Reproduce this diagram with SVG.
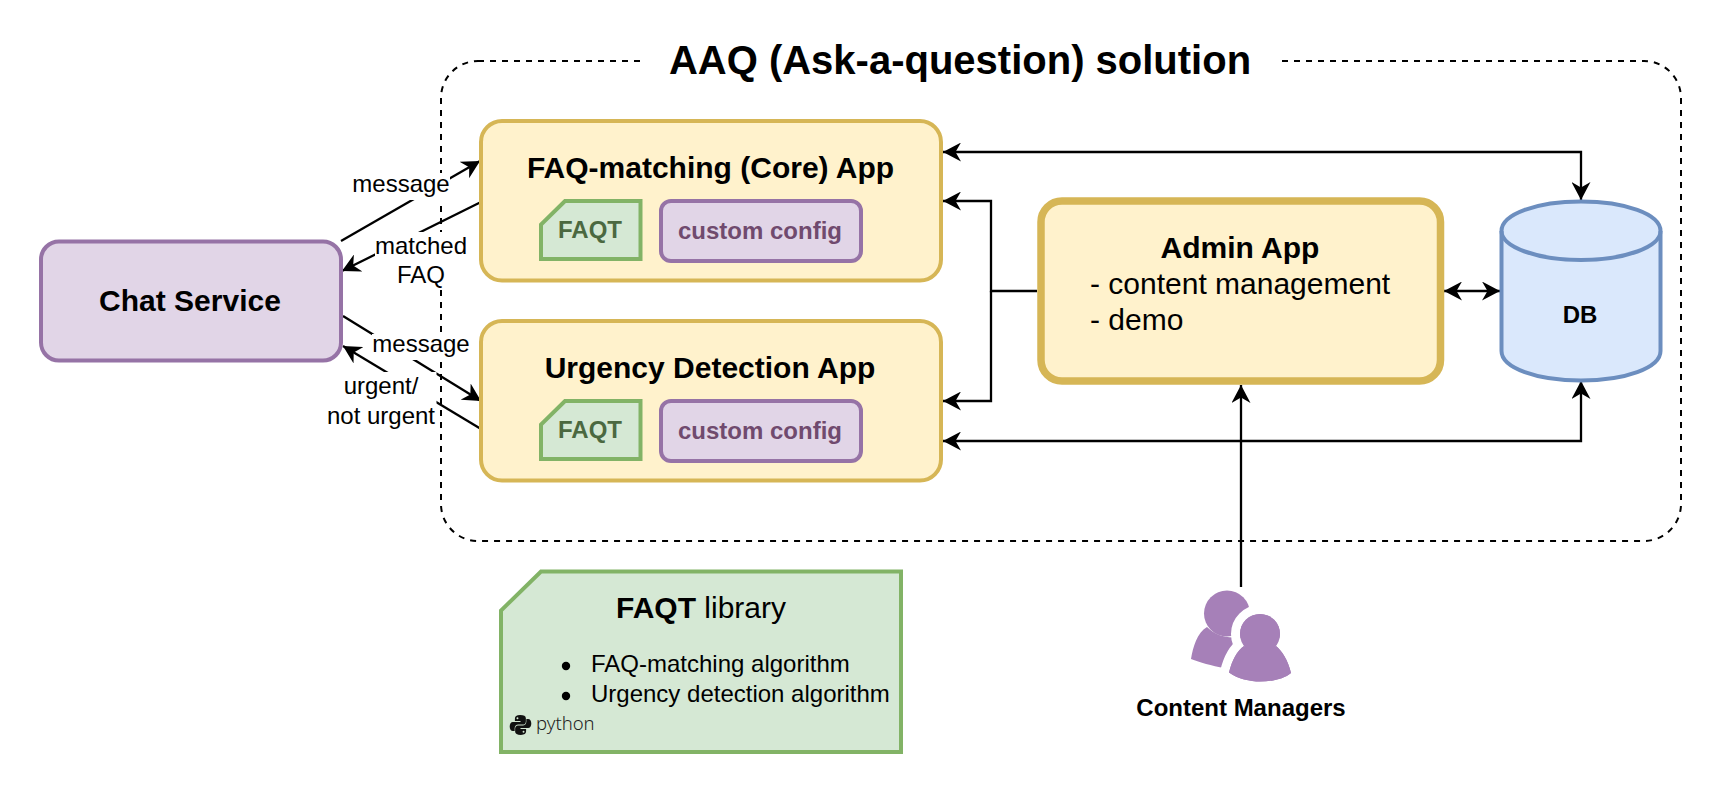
<svg xmlns="http://www.w3.org/2000/svg" width="1722" height="792" viewBox="0 0 1722 792">
<style>
text{font-family:"Liberation Sans",Arial,sans-serif;fill:#000}
.b{font-weight:700}
.m{text-anchor:middle}
.app{fill:#fff2cc;stroke:#d6b656;stroke-width:4}
.cfg{fill:#e1d5e7;stroke:#9673a6;stroke-width:4}
.lib{fill:#d5e8d4;stroke:#82b366;stroke-width:4}
.cn{fill:none;stroke:#000;stroke-width:2.3}
.lb{fill:#fff;stroke:none}
.icon{fill:#a680b8}
</style>
<defs>
<marker id="ah" markerUnits="userSpaceOnUse" viewBox="0 0 18 19" refX="18" refY="9.500" markerWidth="18" markerHeight="19" orient="auto-start-reverse"><path d="M0 0L18 9.500L0 19L5.500 9.500Z" fill="#000"/></marker>
</defs>
<rect width="1722" height="792" fill="#fff"/>
<g id="boundary">
<rect x="441" y="61" width="1240" height="480" rx="37" fill="none" stroke="#000" stroke-width="2" stroke-dasharray="6 6"/>
<rect x="641" y="30" width="641" height="60" fill="#fff"/>
<text class="b m" x="960" y="74" font-size="40">AAQ (Ask-a-question) solution</text>
</g>
<g id="connectors">
<path class="cn" marker-end="url(#ah)" d="M341 241L480 161"/>
<path class="cn" marker-end="url(#ah)" d="M481 202L342 271"/>
<path class="cn" marker-end="url(#ah)" d="M343 316L481 401"/>
<path class="cn" marker-end="url(#ah)" d="M481 429L343 346"/>
<path class="cn" marker-start="url(#ah)" marker-end="url(#ah)" d="M943 152H1581V200"/>
<path class="cn" marker-end="url(#ah)" d="M1037 291H991V201H943"/>
<path class="cn" marker-end="url(#ah)" d="M991 291V401H943"/>
<path class="cn" marker-start="url(#ah)" marker-end="url(#ah)" d="M943 441H1581V381"/>
<path class="cn" marker-start="url(#ah)" marker-end="url(#ah)" d="M1444 291H1500"/>
<path class="cn" marker-end="url(#ah)" d="M1241 587V385"/>
</g>
<g id="chat-service">
<rect class="cfg" x="41" y="241.500" width="300" height="119" rx="18"/>
<text class="b m" x="190" y="311" font-size="30">Chat Service</text>
</g>
<g id="faq-app">
<rect class="app" x="481" y="121" width="460" height="159.500" rx="21"/>
<text class="b m" x="710.500" y="178" font-size="30">FAQ-matching (Core) App</text>
<path class="lib" d="M541 259V224.500L565 201H640.500V259Z"/>
<text class="b m" x="590" y="238" font-size="24" style="fill:#4b6840">FAQT</text>
<rect class="cfg" x="661" y="201" width="200" height="60" rx="10"/>
<text class="b m" x="760" y="239" font-size="24" style="fill:#704a6e">custom config</text>
</g>
<g id="urgency-app">
<rect class="app" x="481" y="321" width="460" height="159.500" rx="21"/>
<text class="b m" x="710" y="378" font-size="30">Urgency Detection App</text>
<path class="lib" d="M541 459V424.500L565 401H640.500V459Z"/>
<text class="b m" x="590" y="438" font-size="24" style="fill:#4b6840">FAQT</text>
<rect class="cfg" x="661" y="401" width="200" height="60" rx="10"/>
<text class="b m" x="760" y="439" font-size="24" style="fill:#704a6e">custom config</text>
</g>
<g id="admin-app">
<rect x="1041" y="201" width="399.500" height="180" rx="21" fill="#fff2cc" stroke="#d6b656" stroke-width="7.500"/>
<text class="b m" x="1240" y="258" font-size="30">Admin App</text>
<text x="1090" y="294" font-size="30">- content management</text>
<text x="1090" y="330" font-size="30">- demo</text>
</g>
<g id="db">
<path d="M1501.500 231C1501.500 214 1537 201.500 1581 201.500S1660.500 214 1660.500 231V351C1660.500 368 1625 380.500 1581 380.500S1501.500 368 1501.500 351Z" fill="#dae8fc" stroke="#6c8ebf" stroke-width="4"/>
<path d="M1501.500 231C1501.500 247 1537 260 1581 260S1660.500 247 1660.500 231" fill="none" stroke="#6c8ebf" stroke-width="4"/>
<text class="b m" x="1580" y="323" font-size="24">DB</text>
</g>
<g id="labels">
<rect class="lb" x="352" y="173" width="98" height="27"/>
<text class="m" x="401" y="192" font-size="24">message</text>
<rect class="lb" x="375" y="232" width="93" height="58"/>
<text class="m" x="421" y="254" font-size="24">matched</text>
<text class="m" x="421" y="283" font-size="24">FAQ</text>
<rect class="lb" x="372" y="334" width="97" height="26"/>
<text class="m" x="421" y="352" font-size="24">message</text>
<rect class="lb" x="327" y="372" width="109.500" height="60"/>
<text class="m" x="381" y="394" font-size="24">urgent/</text>
<text class="m" x="381" y="424" font-size="24">not urgent</text>
</g>
<g id="faqt-library">
<path class="lib" d="M501 752V610.500L541 571.500H901V752Z"/>
<text x="616" y="618" font-size="30"><tspan class="b">FAQT</tspan> library</text>
<circle cx="566" cy="666" r="4.200"/>
<circle cx="566" cy="696" r="4.200"/>
<text x="591" y="672" font-size="24">FAQ-matching algorithm</text>
<text x="591" y="702" font-size="24">Urgency detection algorithm</text>
<g id="python-logo" fill="#111" transform="translate(520.500 725) scale(.8 .9) translate(-520.500 -725.500)">
<path d="M520 714.500c-4.500 0-6.500 1.500-6.500 4v2.500h7v1.200h-9.500c-2.500 0-4 2-4 5s1.500 5 4 5h2.200v-3c0-2.500 2-4.200 4.500-4.200h6c2 0 3.500-1.500 3.500-3.500v-3.500c0-2.300-2.500-3.500-7.200-3.500zm-3.300 2.300a1.200 1.200 0 110 2.400 1.200 1.200 0 010-2.400z"/>
<path d="M521 736.500c4.500 0 6.500-1.500 6.500-4V730h-7v-1.200h9.500c2.500 0 4-2 4-5s-1.500-5-4-5h-2.200v3c0 2.500-2 4.200-4.500 4.200h-6c-2 0-3.500 1.500-3.500 3.500v3.500c0 2.300 2.500 3.500 7.200 3.500zm3.300-2.300a1.200 1.200 0 110-2.400 1.200 1.200 0 010 2.400z"/>
</g>
<text x="536" y="730" font-size="18.500" style="font-family:'Noto Sans',sans-serif;font-weight:300;fill:#222">python</text>
</g>
<g id="content-managers">
<g class="icon">
<circle cx="1227" cy="613.500" r="23"/>
<path d="M1207 627C1197 633 1193 647 1191 659C1200 662 1211 666 1225 668C1240 668 1250 650 1252 632C1240 640 1220 640 1207 627Z"/>
</g>
<g class="icon" stroke="#fff" stroke-width="18" paint-order="stroke" stroke-linejoin="round">
<circle cx="1260" cy="634" r="20"/>
<path d="M1244 646C1237 651 1232 660 1229 672.500C1238 679 1250 681.500 1260 681.500C1272 681.500 1284 679 1291 673C1288 660 1282 651 1276 646C1266 655 1254 655 1244 646Z"/>
</g>
<g class="icon">
<circle cx="1260" cy="634" r="20"/>
<path d="M1244 646C1237 651 1232 660 1229 672.500C1238 679 1250 681.500 1260 681.500C1272 681.500 1284 679 1291 673C1288 660 1282 651 1276 646C1266 655 1254 655 1244 646Z"/>
</g>
<text class="b m" x="1241" y="716" font-size="24">Content Managers</text>
</g>
</svg>
